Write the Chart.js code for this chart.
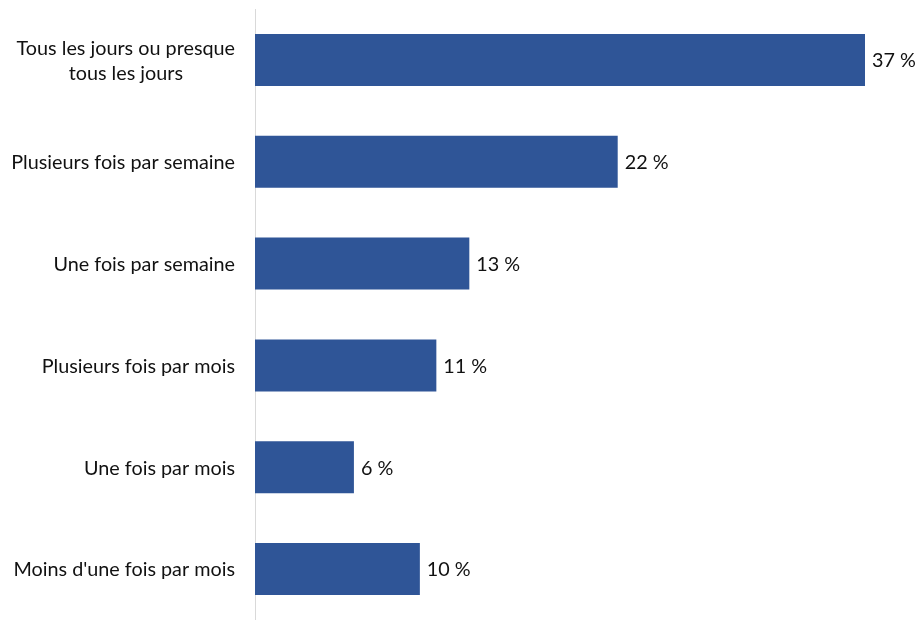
<!DOCTYPE html>
<html>
<head>
<meta charset="utf-8">
<script src="https://cdn.jsdelivr.net/npm/chart.js@4"></script>
<style>
  html, body { margin: 0; padding: 0; background: #fff; }
  #wrap { width: 916px; height: 620px; position: relative; }
</style>
</head>
<body>
<div id="wrap"><canvas id="c"></canvas></div>
<script>
// catégories (une ligne par entrée, le libellé peut tenir sur deux lignes)
const categories = [
  ["Tous les jours ou presque", "tous les jours"],
  ["Plusieurs fois par semaine"],
  ["Une fois par semaine"],
  ["Plusieurs fois par mois"],
  ["Une fois par mois"],
  ["Moins d'une fois par mois"]
];
const values = [37, 22, 13, 11, 6, 10];

const FONT = "Lato, sans-serif";
const FONT_SIZE = 19.8;

// libellés des catégories et des valeurs dessinés à la main
const labelsPlugin = {
  id: "labels",
  afterDraw(chart) {
    const ctx = chart.ctx;
    const yScale = chart.scales.y;
    const meta = chart.getDatasetMeta(0);
    ctx.save();
    ctx.font = FONT_SIZE + "px " + FONT;
    ctx.fillStyle = "#111";
    ctx.textBaseline = "middle";
    const lineH = 25;
    const rightEdge = yScale.right - 20;
    categories.forEach((lines, i) => {
      const y = yScale.getPixelForTick(i);
      const w = Math.max(...lines.map(l => ctx.measureText(l).width));
      const cx = rightEdge - w / 2;
      ctx.textAlign = "center";
      lines.forEach((l, j) => {
        ctx.fillText(l, cx, y + 1 + (j - (lines.length - 1) / 2) * lineH);
      });
    });
    ctx.textAlign = "left";
    meta.data.forEach((bar, i) => {
      ctx.fillText(values[i] + " %", bar.x + 7, bar.y + 1);
    });
    ctx.restore();
  }
};

new Chart(document.getElementById("c"), {
  type: "bar",
  data: {
    labels: categories,
    datasets: [{
      data: values,
      backgroundColor: "#2F5597",
      barPercentage: 0.51,
      categoryPercentage: 1
    }]
  },
  options: {
    indexAxis: "y",
    responsive: true,
    maintainAspectRatio: false,
    animation: false,
    layout: { padding: { top: 9, bottom: 0, right: 51 } },
    plugins: { legend: { display: false }, tooltip: { enabled: false } },
    scales: {
      x: { display: false, min: 0, max: 37 },
      y: {
        grid: { display: false },
        border: { display: true, color: "#d9d9d9", width: 1 },
        ticks: { display: false },
        afterFit(scale) { scale.width = 255; }
      }
    }
  },
  plugins: [labelsPlugin]
});
</script>
</body>
</html>
